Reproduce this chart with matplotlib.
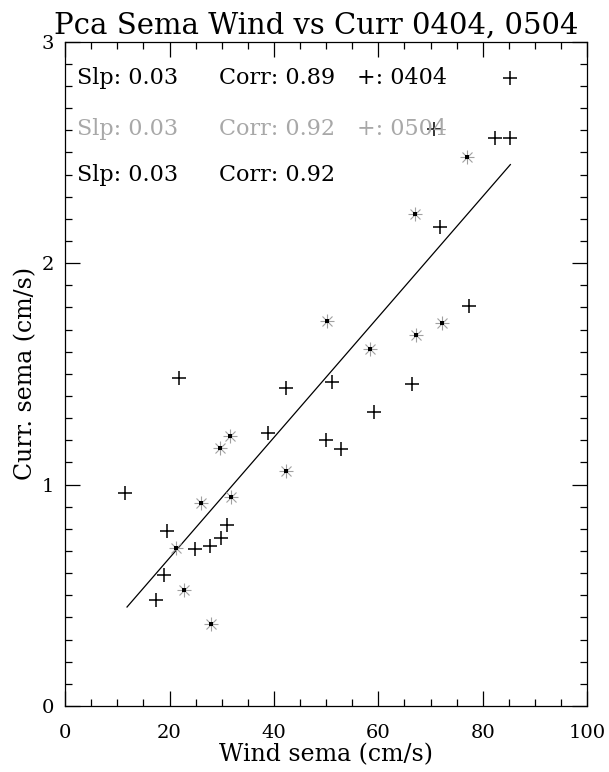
import matplotlib.pyplot as plt
from matplotlib.ticker import MultipleLocator

# 0404 points (black plus)
wind_0404 = [11.5, 21.9, 19.6, 24.9, 27.8, 29.8, 31.0, 18.9, 17.4, 38.9,
             42.3, 51.1, 49.9, 52.9, 66.5, 59.1, 77.3, 71.8, 85.2, 82.3,
             85.3, 70.6]
curr_0404 = [0.96, 1.48, 0.79, 0.709, 0.724, 0.758, 0.818, 0.59, 0.477, 1.233,
             1.434, 1.464, 1.203, 1.16, 1.453, 1.329, 1.806, 2.162, 2.835, 2.565,
             2.565, 2.607]

# 0504 points (grey asterisk)
wind_0504 = [26.1, 31.7, 21.3, 22.7, 28.0, 42.4, 29.6, 31.6, 50.2, 67.1,
             72.2, 67.2, 58.4, 77.0]
curr_0504 = [0.916, 0.943, 0.713, 0.523, 0.369, 1.063, 1.165, 1.22, 1.74, 2.222,
             1.731, 1.676, 1.611, 2.48]

# combined fit line end points
fit_x = [11.85, 85.3]
fit_y = [0.447, 2.445]

stats_rows = [
    ("Slp: 0.03", "Corr: 0.89", "+: 0404", "black"),
    ("Slp: 0.03", "Corr: 0.92", "+: 0504", "#a8a8a8"),
    ("Slp: 0.03", "Corr: 0.92", "", "black"),
]
row_y = [2.835, 2.607, 2.40]
col_x = [2.3, 29.5, 56.0]

SERIF = "DejaVu Serif"


def main() -> None:
    fig = plt.figure(figsize=(6.09, 7.72), dpi=100)
    ax = fig.add_axes([0.107, 0.0855, 0.857, 0.8605])

    ax.plot(fit_x, fit_y, color="black", lw=0.9)

    ax.plot(wind_0504, curr_0504, ls="none", marker="+", ms=10, mew=0.8,
            color="#a0a0a0")
    ax.plot(wind_0504, curr_0504, ls="none", marker="x", ms=7, mew=0.8,
            color="#a0a0a0")
    ax.plot(wind_0504, curr_0504, ls="none", marker="s", ms=2.2, mew=0,
            color="black")

    ax.plot(wind_0404, curr_0404, ls="none", marker="+", ms=9.5, mew=1.1,
            color="black")

    for (slp, corr, tag, col), y in zip(stats_rows, row_y):
        for x, s in zip(col_x, (slp, corr, tag)):
            if s:
                ax.text(x, y, s, color=col, fontsize=16, family=SERIF,
                        va="center")

    ax.set_xlim(0, 100)
    ax.set_ylim(0, 3)
    ax.xaxis.set_major_locator(MultipleLocator(20))
    ax.xaxis.set_minor_locator(MultipleLocator(5))
    ax.yaxis.set_major_locator(MultipleLocator(1))
    ax.yaxis.set_minor_locator(MultipleLocator(0.1))
    ax.tick_params(which="both", direction="in", top=True, right=True,
                   width=0.9, labelsize=14)
    ax.tick_params(axis="x", pad=13)
    ax.tick_params(axis="y", pad=8)
    ax.tick_params(which="major", length=11)
    ax.tick_params(which="minor", length=5)
    for lab in ax.get_xticklabels() + ax.get_yticklabels():
        lab.set_family(SERIF)
    for sp in ax.spines.values():
        sp.set_linewidth(0.9)

    ax.set_xlabel("Wind sema (cm/s)", fontsize=17, family=SERIF, labelpad=1)
    ax.set_ylabel("Curr. sema (cm/s)", fontsize=17, family=SERIF, labelpad=3)
    fig.text(0.52, 0.967, "Pca Sema Wind vs Curr 0404, 0504", fontsize=21,
             family=SERIF, ha="center", va="center")

    fig.savefig("out.png", dpi=100)


if __name__ == "__main__":
    main()
